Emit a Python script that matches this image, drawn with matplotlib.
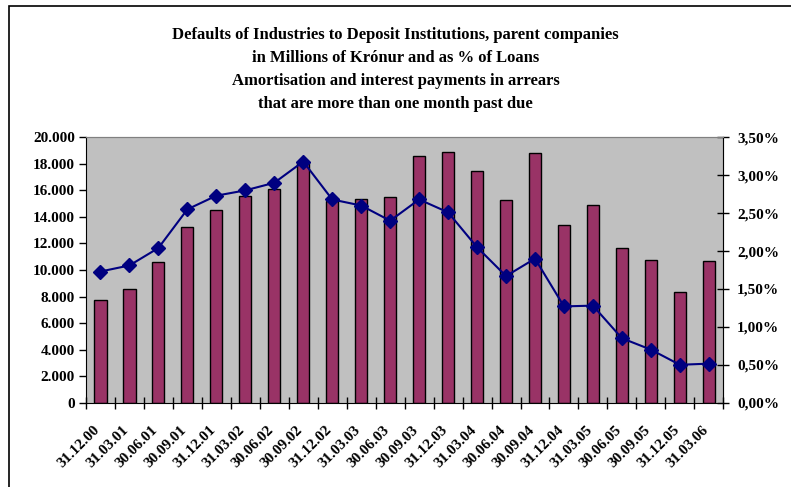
from matplotlib import pyplot as plt
from matplotlib.patches import Rectangle
from matplotlib.ticker import FuncFormatter
from matplotlib.transforms import ScaledTranslation
import numpy as np

plt.rcParams['font.family'] = ['Liberation Serif', 'DejaVu Serif']
plt.rcParams['font.weight'] = 'bold'

dates = ["31.12.00", "31.03.01", "30.06.01", "30.09.01", "31.12.01", "31.03.02",
         "30.06.02", "30.09.02", "31.12.02", "31.03.03", "30.06.03", "30.09.03",
         "31.12.03", "31.03.04", "30.06.04", "30.09.04", "31.12.04", "31.03.05",
         "30.06.05", "30.09.05", "31.12.05", "31.03.06"]

# defaults in millions of kronur (bars)
defaults_mkr = [7740, 8540, 10600, 13240, 14520, 15580, 16110, 18140, 15200, 15330,
                15480, 18620, 18890, 17460, 15300, 18840, 13390, 14870, 11680, 10730,
                8320, 10680]

# defaults as % of loans (line)
defaults_pct = [1.73, 1.81, 2.04, 2.55, 2.73, 2.80, 2.90, 3.18, 2.68, 2.60,
                2.40, 2.68, 2.51, 2.05, 1.67, 1.90, 1.27, 1.28, 0.85, 0.70,
                0.50, 0.515]

x = np.arange(len(dates))

fig = plt.figure(figsize=(7.91, 4.87), dpi=100)
ax = fig.add_axes([0.1087, 0.1731, 0.8057, 0.545])
ax.set_facecolor("#C0C0C0")

ax.bar(x, defaults_mkr, width=0.42, color="#993366", edgecolor="black", linewidth=1.0, zorder=2)
ax.set_xlim(-0.5, len(dates) - 0.5)
ax.set_ylim(0, 20000)
ax.set_yticks(np.arange(0, 20001, 2000))
ax.yaxis.set_major_formatter(FuncFormatter(lambda v, p: f"{int(v):,}".replace(",", ".")))
ax.tick_params(axis="y", direction="out", length=5, width=1, labelsize=11, pad=3)

ax.set_xticks(x)
ax.set_xticklabels(dates, rotation=45, ha="right", rotation_mode="anchor", fontsize=11)
ax.tick_params(axis="x", length=0, pad=15)
shift = ScaledTranslation(-7 / 100, 0, fig.dpi_scale_trans)
for lbl in ax.get_xticklabels():
    lbl.set_transform(lbl.get_transform() + shift)
ax.set_xticks(np.arange(-0.5, len(dates), 1), minor=True)
ax.tick_params(axis="x", which="minor", direction="inout", length=8, width=1)

for side in ["top", "right"]:
    ax.spines[side].set_color("#808080")
for side in ["left", "bottom"]:
    ax.spines[side].set_color("black")

ax2 = ax.twinx()
ax2.plot(x, defaults_pct, color="#000080", linewidth=1.5, marker="D", markersize=7,
         markerfacecolor="#000080", markeredgecolor="#000080", zorder=3)
ax2.set_ylim(0, 3.5)
ax2.set_yticks(np.arange(0, 3.51, 0.5))
ax2.yaxis.set_major_formatter(FuncFormatter(lambda v, p: f"{v:.2f}".replace(".", ",") + "%"))
ax2.tick_params(axis="y", direction="inout", length=8, width=1, labelsize=11, pad=6)
ax2.spines["right"].set_color("black")
ax2.spines["top"].set_color("#808080")
ax2.spines["left"].set_visible(False)
ax2.spines["bottom"].set_visible(False)

fig.text(0.5, 0.945,
         "Defaults of Industries to Deposit Institutions, parent companies\n"
         "in Millions of Krónur and as % of Loans\n"
         "Amortisation and interest payments in arrears\n"
         "that are more than one month past due",
         ha="center", va="top", fontsize=12, fontweight="bold", linespacing=1.58)

# outer chart frame (only top and left edges visible)
fig.patches.append(Rectangle((8.5 / 791, -0.1), 1.2, 1 - 5.5 / 487 + 0.1,
                             transform=fig.transFigure, fill=False,
                             edgecolor="black", linewidth=1.2))

fig.savefig("out.png", dpi=100)
